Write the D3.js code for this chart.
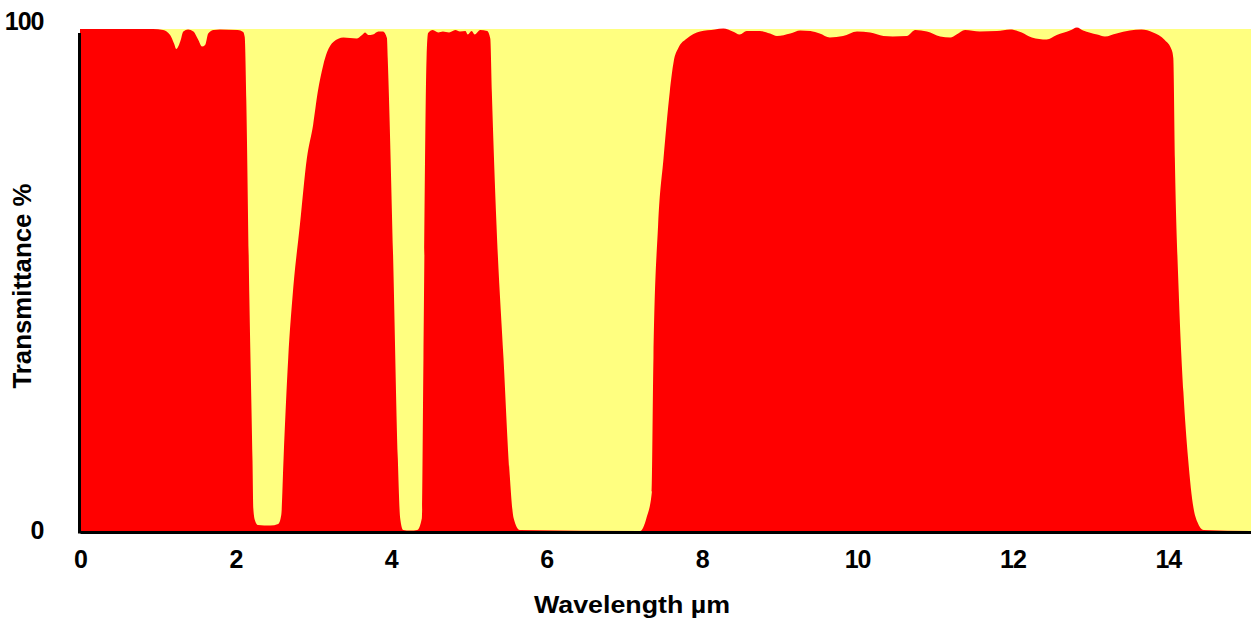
<!DOCTYPE html>
<html>
<head>
<meta charset="utf-8">
<script src="https://cdn.jsdelivr.net/npm/d3@7"></script>
<style>
  body { margin: 0; background: #ffffff; }
  svg { display: block; }
  text { font-family: Arial, "Liberation Sans", sans-serif; font-weight: bold; fill: #000; }
</style>
</head>
<body>
<svg id="chart" width="1251" height="620"></svg>
<script>
// Atmospheric transmittance spectrum (wavelength in µm, transmittance in %)
const wavelength = [
  0, 0.52, 0.94, 1.07, 1.16, 1.21, 1.24, 1.29, 1.33, 1.39, 1.46, 1.52, 1.57, 1.61, 1.65, 1.72, 1.80,
  2.03, 2.10, 2.12, 2.14, 2.18, 2.22, 2.23, 2.25, 2.29, 2.45, 2.55, 2.59, 2.62, 2.68, 2.74, 2.83,
  2.92, 3.00, 3.06, 3.13, 3.18, 3.26, 3.39, 3.56, 3.63, 3.67, 3.71, 3.77, 3.84, 3.90, 3.95, 3.96,
  4.03, 4.09, 4.12, 4.16, 4.25, 4.34, 4.40, 4.42, 4.46, 4.48, 4.54, 4.61, 4.67, 4.75, 4.83, 4.89,
  4.96, 4.99, 5.04, 5.08, 5.15, 5.24, 5.28, 5.30, 5.36, 5.45, 5.53, 5.58, 5.66,
  7.21, 7.29, 7.36, 7.38, 7.44, 7.51, 7.59, 7.64, 7.70, 7.81, 7.98, 8.17, 8.28, 8.40, 8.49, 8.58,
  8.75, 8.88, 8.97, 9.14, 9.27, 9.40, 9.52, 9.65, 9.82, 10.00, 10.17, 10.34, 10.46, 10.64, 10.75,
  10.90, 11.07, 11.20, 11.28, 11.39, 11.58, 11.80, 11.97, 12.12, 12.25, 12.44, 12.57, 12.74, 12.83,
  12.91, 13.09, 13.19, 13.34, 13.51, 13.66, 13.81, 13.96, 14.05, 14.07, 14.09, 14.14, 14.20, 14.26,
  14.33, 14.38, 14.46, 15.07
];
const transmittance = [
  100, 100, 100, 99.8, 98.8, 97.1, 96.0, 97.5, 99.5, 99.9, 99.5, 97.9, 96.5, 96.8, 99.1, 99.8, 99.9,
  99.8, 99.4, 98.4, 85.9, 46.0, 14.1, 4.6, 2.2, 1.2, 1.1, 1.4, 3.2, 14.5, 34.5, 47.6, 61.0,
  74.3, 80.9, 87.5, 92.8, 95.4, 97.4, 98.3, 98.1, 98.8, 99.3, 98.8, 98.9, 99.5, 99.5, 98.2, 94.2,
  54.4, 14.5, 2.6, 0.2, 0.1, 0.2, 2.6, 34.5, 94.2, 99.2, 99.8, 99.3, 99.5, 99.3, 99.8, 99.5,
  99.6, 98.9, 99.6, 98.9, 99.8, 99.6, 98.1, 87.5, 61.0, 34.5, 11.2, 2.6, 0.2,
  0, 2.6, 7.8, 34.5, 61.0, 74.3, 87.5, 93.5, 96.2, 98.1, 99.5, 99.9, 100.1, 99.5, 98.9, 99.6,
  99.6, 99.1, 98.6, 99.1, 99.7, 99.6, 99.1, 98.3, 98.6, 99.5, 99.3, 98.6, 98.5, 98.6, 99.8,
  99.5, 98.5, 98.3, 98.9, 99.8, 99.5, 99.6, 99.9, 99.3, 98.3, 97.9, 98.8, 99.7, 100.3,
  99.7, 98.9, 98.5, 99.1, 99.7, 99.9, 99.3, 97.8, 95.8, 94.2, 74.3, 47.6, 27.7, 14.5,
  4.6, 1.8, 0.2, 0
];
const xTickValues = [0, 2, 4, 6, 8, 10, 12, 14];
const yTickValues = [0, 100];
const xTitle = "Wavelength µm";
const yTitle = "Transmittance %";

const svg = d3.select("#chart");
const plot = { left: 80, right: 1251, top: 29, bottom: 531 };

const x = d3.scaleLinear().domain([0, 15.07]).range([plot.left, plot.right]);
const y = d3.scaleLinear().domain([0, 100]).range([plot.bottom, plot.top]);

// pale yellow absorption background
svg.append("rect")
  .attr("x", plot.left).attr("y", plot.top)
  .attr("width", plot.right - plot.left).attr("height", plot.bottom - plot.top)
  .attr("fill", "#ffff80");

// transmitted fraction as a filled red area
const points = wavelength.map((w, i) => ({ w, t: transmittance[i] }));
const area = d3.area()
  .x(d => x(d.w))
  .y0(y(0))
  .y1(d => y(d.t))
  .curve(d3.curveMonotoneX);
svg.append("path").datum(points).attr("d", area).attr("fill", "#ff0000");

// bottom axis
const xAxis = svg.append("g")
  .attr("transform", `translate(0,${plot.bottom + 1})`)
  .call(d3.axisBottom(x).tickValues(xTickValues).tickSize(0).tickSizeOuter(0).tickPadding(18)
        .tickFormat(d3.format("d")));
xAxis.select(".domain").attr("stroke", "#000").attr("stroke-width", 3);
xAxis.selectAll("text").attr("font-size", 25).attr("letter-spacing", -1)
  .style("font-family", 'Arial, "Liberation Sans", sans-serif').style("font-weight", "bold");

// left axis
const yAxis = svg.append("g")
  .attr("transform", `translate(${plot.left - 0.5},0)`)
  .call(d3.axisLeft(y).tickValues(yTickValues).tickSize(0).tickSizeOuter(0).tickPadding(36)
        .tickFormat(d3.format("d")));
yAxis.select(".domain").attr("stroke", "#000").attr("stroke-width", 3)
  .attr("d", `M0,${plot.bottom + 2.5}V${plot.top + 4}`);
yAxis.selectAll("text").attr("font-size", 25).attr("letter-spacing", -1)
  .attr("dy", d => d === 100 ? "0em" : "0.28em")
  .style("font-family", 'Arial, "Liberation Sans", sans-serif').style("font-weight", "bold");
svg.selectAll(".tick text").attr("fill", "#000");

// axis titles
svg.append("text")
  .attr("x", 632).attr("y", 613)
  .attr("text-anchor", "middle")
  .attr("font-size", 24)
  .attr("textLength", 196).attr("lengthAdjust", "spacingAndGlyphs")
  .text(xTitle);

svg.append("text")
  .attr("transform", "translate(31,286) rotate(-90)")
  .attr("text-anchor", "middle")
  .attr("font-size", 26)
  .attr("textLength", 205).attr("lengthAdjust", "spacingAndGlyphs")
  .text(yTitle);
</script>
</body>
</html>
